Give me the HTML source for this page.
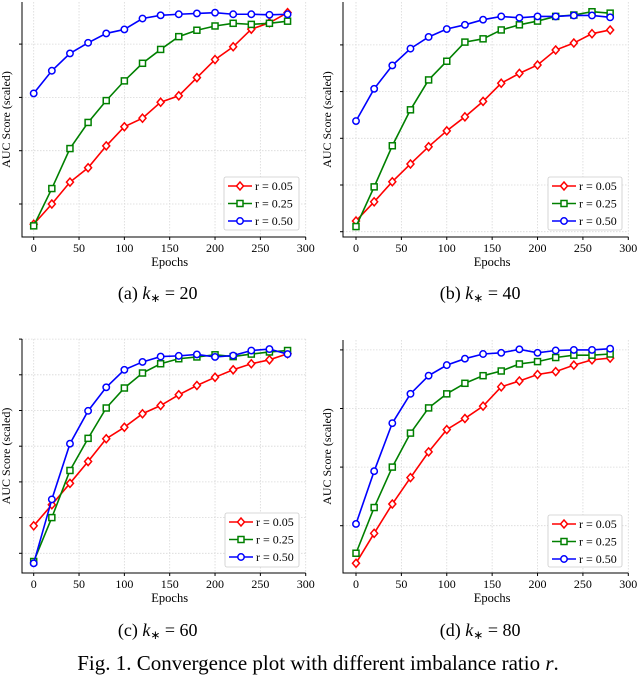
<!DOCTYPE html>
<html><head><meta charset="utf-8"><style>
html,body{margin:0;padding:0;background:#fff;}
svg{display:block;font-family:"Liberation Serif",serif;}
</style></head><body>
<svg id="fig" width="640" height="679" viewBox="0 0 640 679" xmlns="http://www.w3.org/2000/svg"></svg>
<script>
const epochs = [0,20,40,60,80,100,120,140,160,180,200,220,240,260,280];
const xTicks = [0,50,100,150,200,250,300];
const seriesNames = ["r = 0.05","r = 0.25","r = 0.50"];
// panel (a) k*=20
const aRed   = [0.62,1.0,1.41,1.68,2.09,2.45,2.61,2.91,3.03,3.37,3.71,3.95,4.28,4.4,4.59];
const aGreen = [0.59,1.29,2.04,2.53,2.94,3.31,3.64,3.9,4.14,4.26,4.34,4.39,4.37,4.39,4.43];
const aBlue  = [3.075,3.5,3.825,4.025,4.2,4.275,4.48,4.54,4.56,4.575,4.59,4.56,4.56,4.55,4.56];
// panel (b) k*=40
const bRed   = [1.23,1.64,2.07,2.45,2.82,3.16,3.46,3.79,4.18,4.39,4.57,4.89,5.04,5.24,5.32];
const bGreen = [1.11,1.96,2.84,3.61,4.25,4.65,5.06,5.13,5.32,5.43,5.51,5.61,5.64,5.71,5.68];
const bBlue  = [3.37,4.06,4.56,4.92,5.17,5.34,5.43,5.54,5.61,5.58,5.61,5.61,5.63,5.63,5.59];
// panel (c) k*=60
const cRed   = [1.77,2.36,2.96,3.57,4.21,4.53,4.91,5.14,5.44,5.7,5.93,6.14,6.31,6.42,6.59];
const cGreen = [0.77,2.0,3.32,4.22,5.07,5.63,6.05,6.31,6.45,6.5,6.56,6.51,6.58,6.64,6.68];
const cBlue  = [0.72,2.51,4.07,4.99,5.65,6.14,6.36,6.51,6.53,6.57,6.5,6.54,6.68,6.72,6.58];
// panel (d) k*=80
const dRed   = [0.36,0.87,1.37,1.82,2.26,2.64,2.83,3.04,3.37,3.47,3.58,3.63,3.74,3.83,3.86];
const dGreen = [0.53,1.31,2.0,2.58,3.01,3.25,3.43,3.56,3.64,3.76,3.8,3.87,3.91,3.91,3.93];
const dBlue  = [1.03,1.93,2.75,3.25,3.56,3.74,3.85,3.93,3.95,4.01,3.95,3.99,4.0,4.0,4.02];
const aYTicks = [1,2,3,4];
const bYTicks = [1,2,3,4,5];
const cYTicks = [1,2,3,4,5,6,7];
const dYTicks = [1,2,3,4];

const NS="http://www.w3.org/2000/svg";
const svg=document.getElementById('fig');
function mk(tag,attrs,parent){const e=document.createElementNS(NS,tag);for(const k in attrs)e.setAttribute(k,attrs[k]);(parent||svg).appendChild(e);return e;}

const panels=[
 {id:'a',L:22,T:2,B:237,x0:33.7,x300:305.7,yTick1:204,ySp:53.3,yt:aYTicks,data:[aRed,aGreen,aBlue],leg:[224,177,75,53],cap:'(a)',k:'20'},
 {id:'b',L:343,T:2,B:237,x0:356,x300:628.3,yTick1:231.7,ySp:46.7,yt:bYTicks,data:[bRed,bGreen,bBlue],leg:[548,177,74,53],cap:'(b)',k:'40'},
 {id:'c',L:22,T:339,B:573,x0:33.7,x300:305.7,yTick1:553.3,ySp:35.7,yt:cYTicks,data:[cRed,cGreen,cBlue],leg:[225,513,74,54],cap:'(c)',k:'60'},
 {id:'d',L:343,T:340,B:573,x0:356,x300:628.3,yTick1:525.7,ySp:58.6,yt:dYTicks,data:[dRed,dGreen,dBlue],leg:[548,515,74,52],cap:'(d)',k:'80'}
];
const colors=['#ff0000','#008000','#0000ff'];
const markers=['diamond','square','circle'];

function marker(g,type,x,y,c){
  let m;
  if(type==='diamond') m=mk('polygon',{points:`${x},${y-4} ${x+3.5},${y} ${x},${y+4} ${x-3.5},${y}`,fill:'#fff',stroke:c,'stroke-width':1.5},g);
  else if(type==='square') m=mk('rect',{x:x-3,y:y-3,width:6,height:6,fill:'#fff',stroke:c,'stroke-width':1.5},g);
  else m=mk('circle',{cx:x,cy:y,r:3.2,fill:'#fff',stroke:c,'stroke-width':1.5},g);
  
  
}

panels.forEach(p=>{
  const g=mk('g',{});
  
  
  const xs=v=>p.x0+(p.x300-p.x0)*v/300;
  const ys=v=>p.yTick1-(v-1)*p.ySp;
  const R=p.x300;
  xTicks.forEach(t=>{const l=mk('line',{x1:xs(t),x2:xs(t),y1:p.T,y2:p.B,stroke:'#d8d8d8','stroke-width':0.8,'stroke-dasharray':'1.5,1.5'},g);
    });
  p.yt.forEach(t=>{const l=mk('line',{x1:p.L,x2:R,y1:ys(t),y2:ys(t),stroke:'#d8d8d8','stroke-width':0.8,'stroke-dasharray':'1.5,1.5'},g);
    
    const tk=mk('line',{x1:p.L-3,x2:p.L,y1:ys(t),y2:ys(t),stroke:'#000','stroke-width':1},g);
    });
  const sp=mk('path',{d:`M${p.L},${p.T} V${p.B} H${R}`,fill:'none',stroke:'#000','stroke-width':1},g);
  
  xTicks.forEach(t=>{
    const tk=mk('line',{x1:xs(t),x2:xs(t),y1:p.B,y2:p.B+3,stroke:'#000','stroke-width':1},g);
    
    const tx=mk('text',{x:xs(t),y:p.B+15,'font-size':12,'text-anchor':'middle',fill:'#000'},g);
    tx.textContent=t;
  });
  const xl=mk('text',{x:(p.x0+p.x300)/2,y:p.B+29,'font-size':12.5,'text-anchor':'middle',fill:'#000'},g);
  xl.textContent='Epochs';
  const yc=(p.T+p.B)/2, yx=p.L-12;
  const yl=mk('text',{x:yx,y:yc,'font-size':12,'text-anchor':'middle',fill:'#000',transform:`rotate(-90 ${yx} ${yc})`},g);
  yl.textContent='AUC Score (scaled)';
  p.data.forEach((arr,si)=>{
    const sg=mk('g',{},g);
    
    
    const pts=arr.map((v,i)=>xs(epochs[i])+','+ys(v)).join(' ');
    const pl=mk('polyline',{points:pts,fill:'none',stroke:colors[si],'stroke-width':1.6},sg);
    
    arr.forEach((v,i)=>marker(sg,markers[si],xs(epochs[i]),ys(v),colors[si]));
  });
  const [lx,ly,lw,lh]=p.leg;
  const lg=mk('g',{},g);
  
  mk('rect',{x:lx,y:ly,width:lw,height:lh,fill:'#fff',stroke:'#ccc','stroke-width':0.8,rx:2},lg);
  seriesNames.forEach((n,si)=>{
    const ey=ly+9+si*17.5;
    const eg=mk('g',{},lg);
    
    mk('line',{x1:lx+4,x2:lx+28,y1:ey,y2:ey,stroke:colors[si],'stroke-width':1.6},eg);
    marker(eg,markers[si],lx+16,ey,colors[si]);
    const t=mk('text',{x:lx+31,y:ey+4,'font-size':12,fill:'#000'},eg);
    t.textContent=n;
  });
  const cy=p.id==='a'||p.id==='b'?299:636;
  const cap=mk('text',{x:(p.x0+p.x300)/2-12,y:cy,'font-size':18,'text-anchor':'middle',fill:'#000'},g);
  cap.innerHTML=`${p.cap} <tspan font-style="italic">k</tspan><tspan font-size="12" dy="3">∗</tspan><tspan dy="-3"> = ${p.k}</tspan>`;
  
});
const fc=mk('text',{x:318,y:670,'font-size':21,'text-anchor':'middle',fill:'#000'});
fc.innerHTML='Fig. 1.  Convergence plot with different imbalance ratio <tspan font-style="italic">r</tspan>.';


</script>
</body></html>
